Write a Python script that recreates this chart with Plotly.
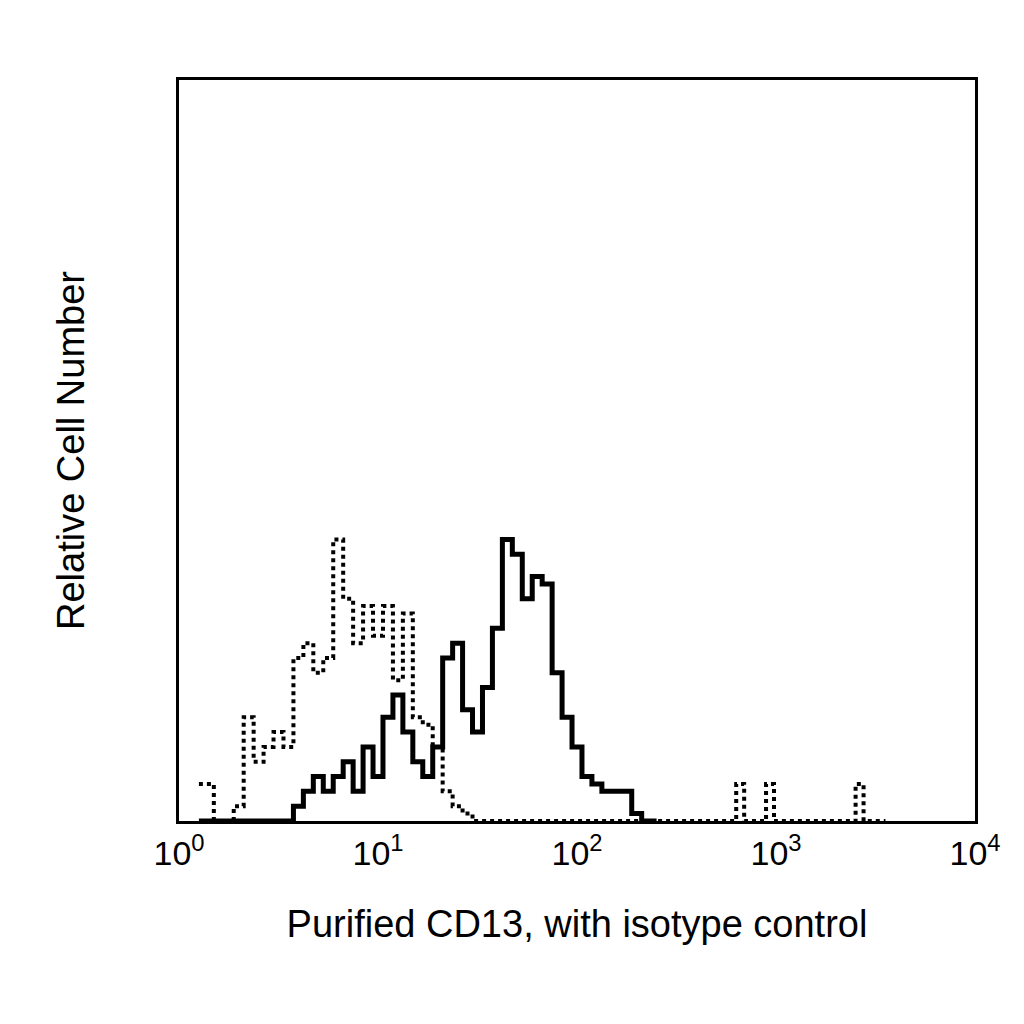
import plotly.graph_objects as go

# bin centres in log10(fluorescence) units
log_bins = [0.10, 0.15, 0.20, 0.25, 0.30, 0.35, 0.40, 0.45, 0.50, 0.55,
            0.60, 0.65, 0.70, 0.75, 0.80, 0.85, 0.90, 0.95, 1.00, 1.05,
            1.10, 1.15, 1.20, 1.25, 1.30, 1.35, 1.40, 1.45, 1.50, 1.55,
            1.60, 1.65, 1.70, 1.75, 1.80, 1.85, 1.90, 1.95, 2.00, 2.05,
            2.10, 2.15, 2.20, 2.25, 2.30, 2.35, 2.40]

isotype = [5, 5, 0, 0, 2, 14, 8, 10, 12, 10,
           22, 24, 20, 22, 38, 30, 24, 29, 25, 29,
           19, 28, 14, 13, 10, 4, 2, 1, 0, 0,
           0, 0, 0, 0, 0, 0, 0, 0, 0, 0,
           0, 0, 0, 0, 0, 0, 0]

cd13 = [0, 0, 0, 0, 0, 0, 0, 0, 0, 0,
        2, 4, 6, 4, 6, 8, 4, 10, 6, 14,
        17, 12, 8, 6, 10, 22, 24, 15, 12, 18,
        26, 38, 36, 30, 33, 32, 20, 14, 10, 6,
        5, 4, 4, 4, 1, 0, 0]

# isolated isotype events in the high tail
tail_bins = [2.78, 2.82, 2.86, 2.93, 2.97, 3.01, 3.38, 3.42, 3.46, 3.55]
tail_counts = [0, 5, 0, 0, 5, 0, 0, 5, 0, 0]

x_iso = [10 ** v for v in log_bins + tail_bins]
y_iso = isotype + tail_counts
x_cd = [10 ** v for v in log_bins]

fig = go.Figure()
fig.add_trace(go.Scatter(
    x=x_iso, y=y_iso, mode="lines", line_shape="hvh",
    line=dict(color="black", width=4, dash="dot"), name="Isotype control"
))
fig.add_trace(go.Scatter(
    x=x_cd, y=cd13, mode="lines", line_shape="hvh",
    line=dict(color="black", width=5), name="Purified CD13"
))

fig.update_layout(
    width=1024, height=1024,
    margin=dict(l=171, r=57, t=72, b=211, autoexpand=False),
    plot_bgcolor="white", paper_bgcolor="white",
    showlegend=False,
    font=dict(family="Liberation Sans, Arial", color="black"),
    xaxis=dict(
        type="log", range=[0, 4],
        tickvals=[1, 10, 100, 1000, 10000],
        ticktext=["10<sup>0</sup>", "10<sup>1</sup>", "10<sup>2</sup>",
                  "10<sup>3</sup>", "10<sup>4</sup>"],
        tickfont=dict(size=34), ticks="", automargin=False,
        showgrid=False, zeroline=False,
        showline=True, linecolor="black", linewidth=3, mirror=True,
        title=dict(text="Purified CD13, with isotype control",
                   font=dict(size=38), standoff=40)
    ),
    yaxis=dict(
        range=[0, 100], showticklabels=False, ticks="", automargin=False,
        showgrid=False, zeroline=False,
        showline=True, linecolor="black", linewidth=3, mirror=True,
        title=dict(text="Relative Cell Number", font=dict(size=38), standoff=80)
    ),
)

fig.write_html("out.html")
